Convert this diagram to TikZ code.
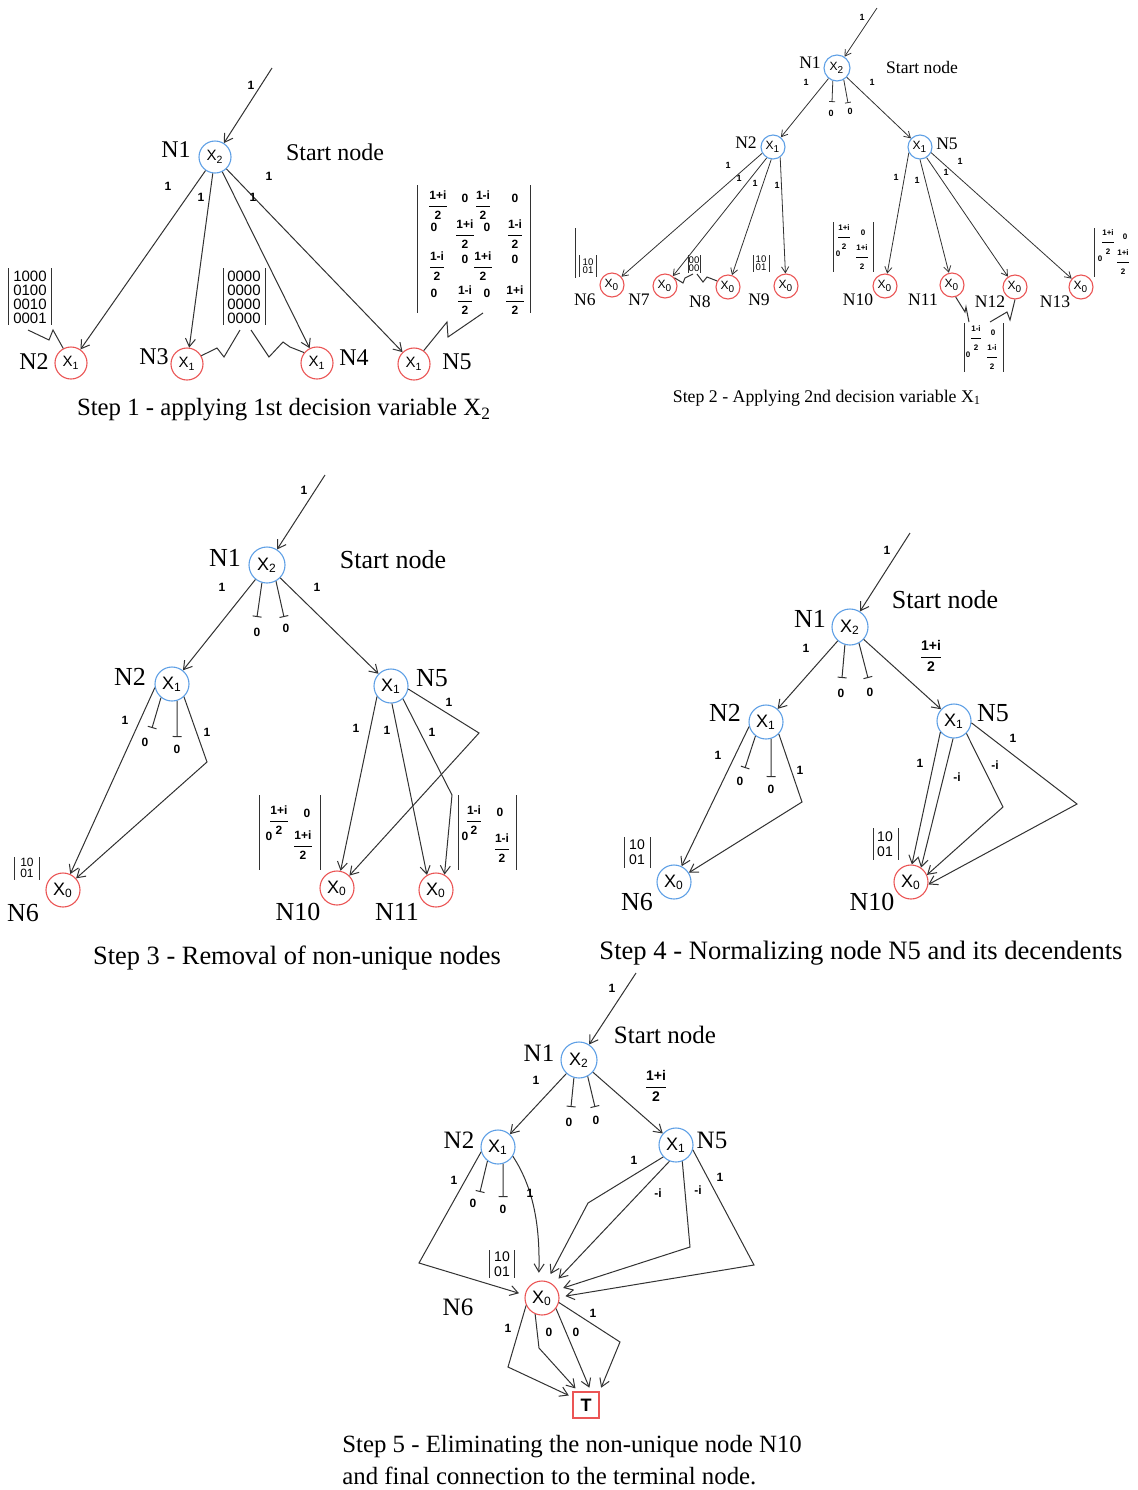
\documentclass[tikz,border=0pt]{standalone}
\usepackage{amsmath}
\usepackage{fontspec}
\setmainfont{Liberation Serif}
\setsansfont{Liberation Sans}
\usetikzlibrary{arrows.meta}
\newcommand\fr[1]{$\dfrac{\text{#1}}{\text{2}}$}
\definecolor{nblue}{RGB}{95,160,230}
\definecolor{nred}{RGB}{235,85,85}
\definecolor{lnc}{RGB}{50,50,50}
\begin{document}
\begin{tikzpicture}[x=0.5pt,y=-0.5pt,
  cn/.style={circle, line width=0.55pt, inner sep=0pt},
  bc/.style={cn, draw=nblue},
  rc/.style={cn, draw=nred},
  ar/.style={draw=lnc, line width=0.5pt, -{Straight Barb[length=4pt,width=5pt]}},
  ars/.style={draw=lnc, line width=0.4pt, -{Straight Barb[length=3pt,width=3.6pt]}},
  pl/.style={draw=lnc, line width=0.5pt},
  stb/.style={draw=lnc, line width=0.5pt, -{Bar[width=4.5pt]}},
  stbs/.style={draw=lnc, line width=0.4pt, -{Bar[width=3pt]}},
  t1/.style={font=\fontsize{12}{12}\selectfont, inner sep=0pt},
  t2/.style={font=\fontsize{8.8}{9}\selectfont, inner sep=0pt},
  t3/.style={font=\fontsize{13}{13}\selectfont, inner sep=0pt},
  t5/.style={font=\fontsize{12.5}{13}\selectfont, inner sep=0pt},
  x1/.style={font=\sffamily\fontsize{7.5}{8}\selectfont, minimum size=16pt},
  x2/.style={font=\sffamily\fontsize{6}{6}\selectfont, minimum size=12pt},
  x3/.style={font=\sffamily\fontsize{9}{9}\selectfont, minimum size=17pt},
  e1/.style={font=\sffamily\bfseries\fontsize{6}{6}\selectfont, inner sep=0pt},
  e2/.style={font=\sffamily\bfseries\fontsize{4.5}{5}\selectfont, inner sep=0pt},
  ef/.style={font=\sffamily\bfseries\fontsize{7}{7}\selectfont, inner sep=0pt},
  f1/.style={font=\sffamily\bfseries\fontsize{6}{6}\selectfont, inner sep=0pt},
  f2/.style={font=\sffamily\bfseries\fontsize{4}{4}\selectfont, inner sep=0pt},
  f3/.style={font=\sffamily\bfseries\fontsize{6}{6}\selectfont, inner sep=0pt},
  m1/.style={font=\sffamily\fontsize{7.5}{7}\selectfont, inner sep=0pt, align=left},
  m2/.style={font=\sffamily\fontsize{4.8}{4.3}\selectfont, inner sep=0pt, align=left},
  m3/.style={font=\sffamily\fontsize{6}{5.2}\selectfont, inner sep=0pt, align=left},
  m4/.style={font=\sffamily\fontsize{7}{7.5}\selectfont, inner sep=0pt, align=left},
  tc/.style={inner sep=0pt}
]
\useasboundingbox (0,0) rectangle (1138,1490);
\fill[white] (0,0) rectangle (1138,1490);

% ================= STEP 1 =================
\coordinate (a0) at (272,68);
\node[bc,x1] (a1) at (215,157) {X\textsubscript{2}};
\node[rc,x1] (a2) at (71,363) {X\textsubscript{1}};
\node[rc,x1] (a3) at (187,364) {X\textsubscript{1}};
\node[rc,x1] (a4) at (317,363) {X\textsubscript{1}};
\node[rc,x1] (a5) at (414,364) {X\textsubscript{1}};
\draw[ar] (a0) -- (a1);
\draw[ar] (a1) -- (a2);
\draw[ar] (a1) -- (a3);
\draw[ar] (a1) -- (a4);
\draw[ar] (a1) -- (a5);
\node[e1] (al0) at (251,85) {1};
\node[e1] (al2) at (168,186) {1};
\node[e1] (al3) at (201,197) {1};
\node[e1] (al4) at (253,197) {1};
\node[e1] (al5) at (269,176) {1};
\node[t1] (an1) at (176,150) {N1};
\node[t1] (ast) at (335,152) {Start node};
\node[t1] (an2) at (34,362) {N2};
\node[t1] (an3) at (154,357) {N3};
\node[t1] (an4) at (354,358) {N4};
\node[t1] (an5) at (457,362) {N5};
\node[m1] (am1) at (30,297) {1000\\0100\\0010\\0001};
\draw[pl] (8,268) -- (8,325) (51,268) -- (51,325);
\draw[pl] (28,330) -- (49,340) -- (53,330) -- (a2.118);
\node[m1] (am2) at (244,297) {0000\\0000\\0000\\0000};
\draw[pl] (223,268) -- (223,325) (265,268) -- (265,325);
\draw[pl] (a3.30) -- (217,348) -- (224,357) -- (240,330);
\draw[pl] (251,330) -- (269,357) -- (283,342) -- (290,347) -- (a4.141);
\draw[pl] (a5.54) -- (447,322) -- (448,337) -- (483,313);
\draw[pl] (417,185) -- (417,313) (530,185) -- (530,313);
\node[f1] (ak1) at (438,205) {\fr{1+i}};
\node[f1] (ak2) at (465,198) {0};
\node[f1] (ak3) at (483,205) {\fr{1-i}};
\node[f1] (ak4) at (515,198) {0};
\node[f1] (ak5) at (434,227) {0};
\node[f1] (ak6) at (465,234) {\fr{1+i}};
\node[f1] (ak7) at (487,227) {0};
\node[f1] (ak8) at (515,234) {\fr{1-i}};
\node[f1] (ak9) at (437,266) {\fr{1-i}};
\node[f1] (ak10) at (465,259) {0};
\node[f1] (ak11) at (483,266) {\fr{1+i}};
\node[f1] (ak12) at (515,259) {0};
\node[f1] (ak13) at (434,293) {0};
\node[f1] (ak14) at (465,300) {\fr{1-i}};
\node[f1] (ak15) at (487,293) {0};
\node[f1] (ak16) at (515,300) {\fr{1+i}};
\node[tc,font=\fontsize{12.4}{13}\selectfont] (acap) at (284,410) {Step 1 - applying 1st decision variable X\textsubscript{2}};

% ================= STEP 2 =================
\coordinate (b0) at (877,8);
\node[bc,x2,minimum size=13pt] (b1) at (837,68) {X\textsubscript{2}};
\node[bc,x2] (b2) at (773,147) {X\textsubscript{1}};
\node[bc,x2] (b5) at (920,147) {X\textsubscript{1}};
\node[rc,x2] (b6) at (612,285) {X\textsubscript{0}};
\node[rc,x2] (b7) at (665,286) {X\textsubscript{0}};
\node[rc,x2] (b8) at (728,287) {X\textsubscript{0}};
\node[rc,x2] (b9) at (786,286) {X\textsubscript{0}};
\node[rc,x2] (b10) at (885,286) {X\textsubscript{0}};
\node[rc,x2] (b11) at (952,285) {X\textsubscript{0}};
\node[rc,x2] (b12) at (1015,287) {X\textsubscript{0}};
\node[rc,x2] (b13) at (1081,287) {X\textsubscript{0}};
\draw[ars] (b0) -- (b1);
\coordinate (b1x) at (832,102);
\coordinate (b1y) at (848,103);
\draw[stbs] (b1.252) -- (b1x);
\draw[stbs] (b1.300) -- (b1y);
\node[e2] (bz1) at (831,113) {0};
\node[e2] (bz2) at (850,111) {0};
\draw[ars] (b1) -- (b2);
\draw[ars] (b1) -- (b5);
\draw[ars] (b2.210) -- (b6);
\draw[ars] (b2.240) -- (b7);
\draw[ars] (b2.262) -- (b8);
\draw[ars] (b2.305) -- (b9);
\draw[ars] (b5.207) -- (b10);
\draw[ars] (b5.270) -- (b11);
\draw[ars] (b5.302) -- (b12);
\draw[ars] (b5.333) -- (b13);
\node[e2] (bl0) at (862,17) {1};
\node[e2] (bl1) at (806,82) {1};
\node[e2] (bl2) at (872,82) {1};
\node[e2] (bl3) at (728,165) {1};
\node[e2] (bl4) at (739,178) {1};
\node[e2] (bl5) at (755,183) {1};
\node[e2] (bl6) at (777,185) {1};
\node[e2] (bl7) at (896,177) {1};
\node[e2] (bl8) at (917,180) {1};
\node[e2] (bl9) at (946,172) {1};
\node[e2] (bl10) at (960,161) {1};
\node[t2] (bn1) at (810,63) {N1};
\node[t2] (bst) at (922,67) {Start node};
\node[t2] (bn2) at (746,143) {N2};
\node[t2] (bn5) at (947,144) {N5};
\node[t2] (bn6) at (585,300) {N6};
\node[t2] (bn7) at (639,300) {N7};
\node[t2] (bn8) at (700,302) {N8};
\node[t2] (bn9) at (759,300) {N9};
\node[t2] (bn10) at (858,300) {N10};
\node[t2] (bn11) at (923,300) {N11};
\node[t2] (bn12) at (990,302) {N12};
\node[t2] (bn13) at (1055,302) {N13};
\draw[pl] (575,228) -- (575,278);
\node[m2] (bm1) at (588,266) {10\\01};
\draw[pl] (579,255) -- (579,277) (596,255) -- (596,277);
\node[m2] (bm2) at (694,264) {00\\00};
\draw[pl] (688,255) -- (688,273) (700,255) -- (700,273);
\draw[pl] (b7.41) -- (683,283) -- (685,278) -- (693,274);
\draw[pl] (697,274) -- (703,282) -- (707,277) -- (b8.151);
\node[m2] (bm3) at (761,263) {10\\01};
\draw[pl] (753,255) -- (753,272) (769,255) -- (769,272);
\draw[pl] (833,222) -- (833,272) (873,222) -- (873,272);
\node[f2] (bk1) at (844,237) {\fr{1+i}};
\node[f2] (bk2) at (863,233) {0};
\node[f2] (bk3) at (838,254) {0};
\node[f2] (bk4) at (862,257) {\fr{1+i}};
\draw[pl] (1094,228) -- (1094,277);
\node[f2] (bk5) at (1108,242) {\fr{1+i}};
\node[f2] (bk6) at (1125,237) {0};
\node[f2] (bk7) at (1100,259) {0};
\node[f2] (bk8) at (1123,262) {\fr{1+i}};
\draw[pl] (964,323) -- (964,372) (1003,323) -- (1003,372);
\node[f2] (bk9) at (976,338) {\fr{1-i}};
\node[f2] (bk10) at (993,333) {0};
\node[f2] (bk11) at (968,355) {0};
\node[f2] (bk12) at (992,357) {\fr{1-i}};
\draw[pl] (b11.287) -- (965,312) -- (966,307) -- (969,322);
\draw[pl] (b12.270) -- (1010,320) -- (1007,312) -- (990,322);
\node[tc,font=\fontsize{8.9}{9}\selectfont] (bcap) at (827,398) {Step 2 - Applying 2nd decision variable X\textsubscript{1}};

% ================= STEP 3 =================
\coordinate (c0) at (325,475);
\node[bc,x3,minimum size=18pt] (c1) at (267,565) {X\textsubscript{2}};
\node[bc,x3] (c2) at (172,684) {X\textsubscript{1}};
\node[bc,x3] (c5) at (391,686) {X\textsubscript{1}};
\node[rc,x3] (c6) at (63,890) {X\textsubscript{0}};
\node[rc,x3] (c10) at (337,888) {X\textsubscript{0}};
\node[rc,x3] (c11) at (436,890) {X\textsubscript{0}};
\draw[ar] (c0) -- (c1);
\coordinate (c1x) at (257,617);
\coordinate (c1y) at (284,617);
\draw[stb] (c1.254) -- (c1x);
\draw[stb] (c1.299) -- (c1y);
\node[e1] (cz1) at (257,632) {0};
\node[e1] (cz2) at (286,628) {0};
\draw[ar] (c1) -- (c2);
\draw[ar] (c1) -- (c5);
\draw[ar] (c2.192) -- (c6);
\coordinate (c2x) at (152,728);
\coordinate (c2y) at (177,737);
\draw[stb] (c2.231) -- (c2x);
\draw[stb] (c2.287) -- (c2y);
\node[e1] (cz3) at (145,742) {0};
\node[e1] (cz4) at (177,749) {0};
\draw[ar] (c2.313) -- (207,762) -- (c6);
\draw[ar] (c5.217) -- (c10);
\draw[ar] (c5.273) -- (c11.121);
\draw[ar] (c5.313) -- (452,795) -- (c11.61);
\draw[ar] (c5.350) -- (479,733) -- (c10.45);
\node[e1] (cl0) at (304,490) {1};
\node[e1] (cl1) at (222,587) {1};
\node[e1] (cl2) at (317,587) {1};
\node[e1] (cl3) at (125,720) {1};
\node[e1] (cl4) at (207,732) {1};
\node[e1] (cl5) at (356,728) {1};
\node[e1] (cl6) at (387,730) {1};
\node[e1] (cl7) at (432,732) {1};
\node[e1] (cl8) at (449,702) {1};
\node[t3] (cn1) at (225,558) {N1};
\node[t3] (cst) at (393,560) {Start node};
\node[t3] (cn2) at (130,677) {N2};
\node[t3] (cn5) at (432,678) {N5};
\node[t3] (cn6) at (23,913) {N6};
\node[t3] (cn10) at (298,912) {N10};
\node[t3] (cn11) at (397,912) {N11};
\node[m3] (cm1) at (27,868) {10\\01};
\draw[pl] (14,857) -- (14,880) (39,857) -- (39,880);
\draw[pl] (259,795) -- (259,870) (320,795) -- (320,870);
\node[f3] (ck1) at (279,820) {\fr{1+i}};
\node[f3] (ck2) at (307,813) {0};
\node[f3] (ck3) at (269,836) {0};
\node[f3] (ck4) at (303,845) {\fr{1+i}};
\draw[pl] (458,795) -- (458,870) (516,795) -- (516,870);
\node[f3] (ck5) at (474,820) {\fr{1-i}};
\node[f3] (ck6) at (500,812) {0};
\node[f3] (ck7) at (465,836) {0};
\node[f3] (ck8) at (502,848) {\fr{1-i}};
\node[tc,font=\fontsize{13.2}{14}\selectfont] (ccap) at (297,958) {Step 3 - Removal of non-unique nodes};

% ================= STEP 4 =================
\coordinate (d0) at (910,533);
\node[bc,x3,minimum size=18pt] (d1) at (850,627) {X\textsubscript{2}};
\node[bc,x3] (d2) at (766,722) {X\textsubscript{1}};
\node[bc,x3] (d5) at (954,721) {X\textsubscript{1}};
\node[bc,x3] (d6) at (674,882) {X\textsubscript{0}};
\node[rc,x3] (d10) at (911,882) {X\textsubscript{0}};
\draw[ar] (d0) -- (d1);
\coordinate (d1x) at (842,678);
\coordinate (d1y) at (868,678);
\draw[stb] (d1.254) -- (d1x);
\draw[stb] (d1.299) -- (d1y);
\node[e1] (dz1) at (841,693) {0};
\node[e1] (dz2) at (870,692) {0};
\draw[ar] (d1) -- (d2);
\draw[ar] (d1) -- (d5);
\draw[ar] (d2.195) -- (d6);
\coordinate (d2x) at (745,768);
\coordinate (d2y) at (771,777);
\draw[stb] (d2.233) -- (d2x);
\draw[stb] (d2.287) -- (d2y);
\node[e1] (dz3) at (740,781) {0};
\node[e1] (dz4) at (771,789) {0};
\draw[ar] (d2.317) -- (802,802) -- (d6);
\draw[ar] (d5.219) -- (d10.87);
\draw[ar] (d5.267) -- (d10.55);
\draw[ar] (d5.315) -- (1003,807) -- (d10.24);
\draw[ar] (d5.354) -- (1077,804) -- (d10.352);
\node[e1] (dl0) at (887,550) {1};
\node[e1] (dl1) at (806,648) {1};
\node[ef] (dl2) at (931,656) {\fr{1+i}};
\node[e1] (dl3) at (718,755) {1};
\node[e1] (dl4) at (800,770) {1};
\node[e1] (dl5) at (920,763) {1};
\node[e1] (dl6) at (957,777) {-i};
\node[e1] (dl7) at (995,765) {-i};
\node[e1] (dl8) at (1013,738) {1};
\node[t3] (dn1) at (810,619) {N1};
\node[t3] (dst) at (945,600) {Start node};
\node[t3] (dn2) at (725,713) {N2};
\node[t3] (dn5) at (993,713) {N5};
\node[t3] (dn6) at (637,902) {N6};
\node[t3] (dn10) at (872,902) {N10};
\node[m4] (dm1) at (885,844) {10\\01};
\draw[pl] (873,828) -- (873,860) (898,828) -- (898,860);
\node[m4] (dm2) at (637,852) {10\\01};
\draw[pl] (624,837) -- (624,868) (650,837) -- (650,868);
\node[tc,font=\fontsize{13.3}{14}\selectfont] (dcap) at (861,953) {Step 4 - Normalizing node N5 and its decendents};

% ================= STEP 5 =================
\coordinate (e0) at (636,973);
\node[bc,x3,minimum size=18pt] (e1) at (579,1060) {X\textsubscript{2}};
\node[bc,x3] (e2) at (498,1147) {X\textsubscript{1}};
\node[bc,x3] (e5) at (676,1145) {X\textsubscript{1}};
\node[rc,x3] (e6) at (542,1298) {X\textsubscript{0}};
\node[draw=nred, line width=0.6pt, minimum size=13pt, inner sep=0pt, font=\sffamily\bfseries\fontsize{9}{9}\selectfont] (tt) at (586,1405) {T};
\draw[ar] (e0) -- (e1);
\coordinate (e1x) at (571,1107);
\coordinate (e1y) at (595,1107);
\draw[stb] (e1.254) -- (e1x);
\draw[stb] (e1.298) -- (e1y);
\node[e1] (ez1) at (569,1122) {0};
\node[e1] (ez2) at (596,1120) {0};
\draw[ar] (e1) -- (e2);
\draw[ar] (e1) -- (e5);
\coordinate (e2x) at (480,1192);
\coordinate (e2y) at (503,1197);
\draw[stb] (e2.233) -- (e2x);
\draw[stb] (e2.287) -- (e2y);
\node[e1] (ez3) at (473,1203) {0};
\node[e1] (ez4) at (503,1209) {0};
\draw[ar, shorten >=3pt] (e2.196) -- (419,1263) -- (e6.170);
\draw[ar, shorten >=4pt] (e2.328) .. controls (535,1190) and (540,1230) .. (e6.101);
\draw[ar, shorten >=4pt] (e5.223) -- (588,1203) -- (e6.74);
\draw[ar, shorten >=4pt] (e5.248) -- (e6.51);
\draw[ar, shorten >=3pt] (e5.291) -- (690,1247) -- (e6.28);
\draw[ar, shorten >=3pt] (e5.344) -- (754,1265) -- (e6.3);
\draw[ar, shorten >=2pt] (e6.205) -- (508,1367) -- (tt.150);
\draw[ar, shorten >=2pt] (e6.247) -- (539,1348) -- (tt.120);
\draw[ar, shorten >=2pt] (e6.323) -- (tt.70);
\draw[ar, shorten >=2pt] (e6.345) -- (620,1342) -- (tt.45);
\node[e1] (el0) at (612,988) {1};
\node[e1] (el1) at (536,1080) {1};
\node[ef] (el2) at (656,1086) {\fr{1+i}};
\node[e1] (el3) at (454,1180) {1};
\node[e1] (el4) at (530,1193) {1};
\node[e1] (el5) at (634,1160) {1};
\node[e1] (el6) at (658,1193) {-i};
\node[e1] (el7) at (698,1190) {-i};
\node[e1] (el8) at (720,1177) {1};
\node[e1] (el9) at (508,1328) {1};
\node[e1] (el10) at (549,1332) {0};
\node[e1] (el11) at (576,1332) {0};
\node[e1] (el12) at (593,1313) {1};
\node[t5] (en1) at (539,1053) {N1};
\node[t5] (est) at (665,1035) {Start node};
\node[t5] (en2) at (459,1140) {N2};
\node[t5] (en5) at (712,1140) {N5};
\node[t5] (en6) at (458,1307) {N6};
\node[m4] (em1) at (502,1264) {10\\01};
\draw[pl] (489,1250) -- (489,1278) (514,1250) -- (514,1278);
\node[tc,anchor=west,font=\fontsize{12.4}{14}\selectfont] (ecap1) at (342,1447) {Step 5 - Eliminating the non-unique node N10};
\node[tc,anchor=west,font=\fontsize{12.4}{14}\selectfont] (ecap2) at (342,1476) {and final connection to the terminal node.};
\end{tikzpicture}
\end{document}
